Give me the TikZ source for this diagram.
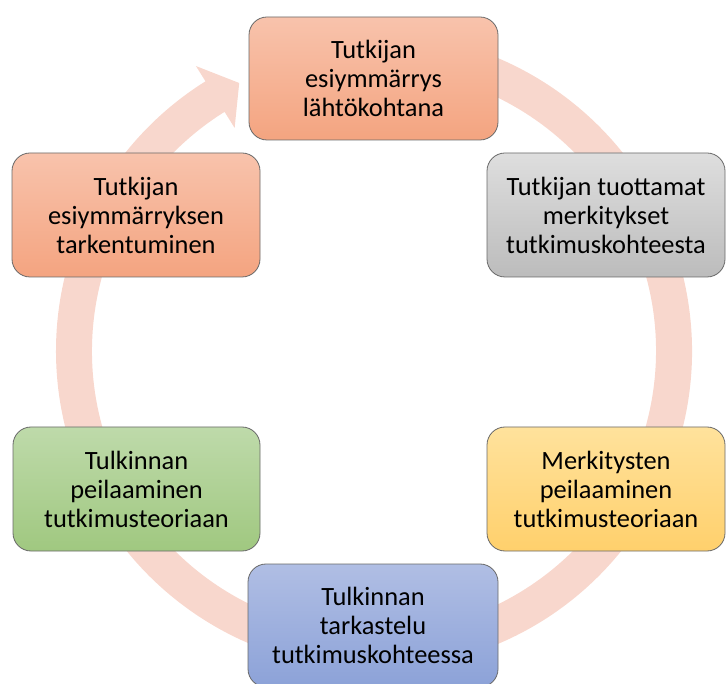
\documentclass[tikz,border=0pt]{standalone}
\usepackage{fontspec}
\setmainfont{Carlito}
\usetikzlibrary{calc}
\definecolor{ringc}{RGB}{248,215,205}
\definecolor{orTop}{RGB}{248,195,172}
\definecolor{orBot}{RGB}{244,164,128}
\definecolor{grTop}{RGB}{222,222,222}
\definecolor{grBot}{RGB}{188,188,188}
\definecolor{yeTop}{RGB}{255,226,156}
\definecolor{yeBot}{RGB}{255,208,108}
\definecolor{gnTop}{RGB}{190,218,170}
\definecolor{gnBot}{RGB}{160,200,128}
\definecolor{blTop}{RGB}{176,190,228}
\definecolor{blBot}{RGB}{140,162,216}
\definecolor{edgec}{RGB}{105,105,105}
\tikzset{
  cyclebox/.style={draw=edgec, line width=0.8pt, rounded corners=18pt,
    inner sep=0pt, align=center, text=black,
    font=\fontsize{26.4}{29}\selectfont},
  orbox/.style={cyclebox, top color=orTop, bottom color=orBot},
  grbox/.style={cyclebox, top color=grTop, bottom color=grBot},
  yebox/.style={cyclebox, top color=yeTop, bottom color=yeBot},
  gnbox/.style={cyclebox, top color=gnTop, bottom color=gnBot},
  blbox/.style={cyclebox, top color=blTop, bottom color=blBot},
}
\begin{document}
\begin{tikzpicture}[x=1pt,y=1pt]
\useasboundingbox (0,0) rectangle (726,-684);
\coordinate (c) at (374,-351);
% circular arrow
\fill[ringc]
  ($(c)+(100:318)$) arc[start angle=100, end angle=-238, radius=318]
  -- ($(c)+(-238:336)$)
  -- ($(c)+(-243.3:300)$)
  -- ($(c)+(-238:263)$)
  -- ($(c)+(-238:282)$)
  arc[start angle=-238, end angle=100, radius=282]
  -- cycle;
% boxes
\node[orbox, minimum width=249, minimum height=123] (n1) at (373.5,-78.5)
  {Tutkijan\\esiymmärrys\\lähtökohtana};
\node[grbox, minimum width=238, minimum height=124] (n2) at (606,-215)
  {Tutkijan tuottamat\\merkitykset\\tutkimuskohteesta};
\node[yebox, minimum width=238, minimum height=124] (n3) at (606,-489)
  {Merkitysten\\peilaaminen\\tutkimusteoriaan};
\node[blbox, minimum width=250, minimum height=123] (n4) at (373,-625.5)
  {Tulkinnan\\tarkastelu\\tutkimuskohteessa};
\node[gnbox, minimum width=247, minimum height=124] (n5) at (136.5,-489)
  {Tulkinnan\\peilaaminen\\tutkimusteoriaan};
\node[orbox, minimum width=248, minimum height=124] (n6) at (136,-215)
  {Tutkijan\\esiymmärryksen\\tarkentuminen};
\end{tikzpicture}
\end{document}
